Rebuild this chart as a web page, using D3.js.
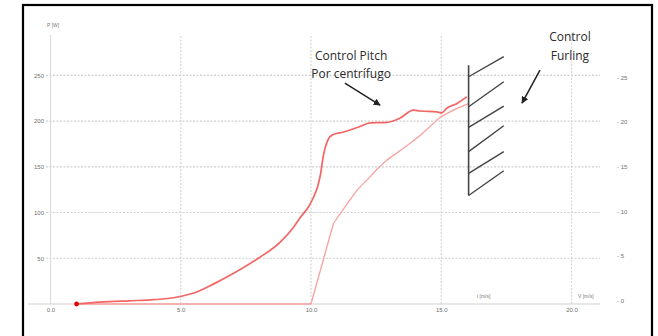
<!DOCTYPE html>
<html>
<head>
<meta charset="utf-8">
<script src="https://cdn.jsdelivr.net/npm/d3@7"></script>
<style>
  html, body { margin: 0; padding: 0; background: #fff; }
  svg { display: block; }
</style>
</head>
<body>
<div id="chart"></div>
<script>
// ---- Data ----
const xTicks = [0, 5, 10, 15, 20];           // V [m/s]
const yTicksLeft = [50, 100, 150, 200, 250];  // P [W]
const yTicksRight = [0, 5, 10, 15, 20, 25];

// Power curve with pitch control (darker red)  [V, P]
const powerPitch = [
  [1,0],[1.9,2],[3,3.5],[3.84,4.5],[4.5,6],[5.03,8.5],[5.5,12],[6.27,22],[7.03,33.5],
  [7.98,50],[8.83,68],[9.33,84],[9.6,95],[9.9,106],[10.1,117],[10.25,128],[10.36,141],
  [10.48,163],[10.63,178],[10.83,185],[11.25,188],[11.88,194],[12.27,198],[12.9,198.5],
  [13.41,203],[13.93,212],[14.18,211],[14.83,210],[15.02,209],[15.21,214],[15.59,219],
  [15.91,225],[15.98,226.5]
];
// Second curve (lighter red)  [V, P]
const powerSecond = [
  [1,0],[10,0],[10.86,88],[11.4,110],[11.78,125],[12.27,139],[12.52,147],[12.9,157],
  [13.54,170],[14.18,184],[14.95,204],[15.46,212],[16.04,219]
];
// Start marker
const startPoint = [[1, 0]];

// Annotations (data units)
const labelPitch = [{t:"Control Pitch", x:11.54, y:267}, {t:"Por centrífugo", x:11.54, y:247.5}];
const labelFurling = [{t:"Control", x:19.94, y:287}, {t:"Furling", x:19.94, y:267}];
const arrows = [
  {x1:11.3, y1:241.5, x2:12.65, y2:217.5},
  {x1:18.79, y1:255.7, x2:18.1, y2:219.7}
];
const hatchSpine = {x:16.05, y1:118.6, y2:261};
const hatchLines = [
  [248.4, 270.3], [215.6, 243], [193.1, 216.4], [166.6, 194.9], [142.8, 166.6], [118.6, 145.7]
];
const hatchX2 = 17.4;

// ---- Layout ----
const W = 658, H = 336;
const svg = d3.select("#chart").append("svg").attr("width", W).attr("height", H);
svg.append("rect").attr("width", W).attr("height", H).attr("fill", "#fff");

const x = d3.scaleLinear().domain([0, 20]).range([50.5, 571.5]);
const y = d3.scaleLinear().domain([0, 250]).range([304, 75.3]);
const yR = d3.scaleLinear().domain([0, 25]).range([300.7, 77.3]);

const gridX0 = 46, gridX1 = 600;

// horizontal grid
svg.append("g").selectAll("line").data(yTicksLeft).join("line")
  .attr("x1", gridX0).attr("x2", gridX1)
  .attr("y1", d => y(d)).attr("y2", d => y(d))
  .attr("stroke", "#cfcfcf").attr("stroke-width", 1.2).attr("stroke-dasharray", "2,1.5");

// vertical grid
svg.append("g").selectAll("line").data(xTicks.filter(d => d > 0)).join("line")
  .attr("x1", d => x(d)).attr("x2", d => x(d))
  .attr("y1", y(0)).attr("y2", y(294))
  .attr("stroke", "#d6d6d6").attr("stroke-width", 1.2).attr("stroke-dasharray", "2,1.5");
svg.append("line")
  .attr("x1", x(0)).attr("x2", x(0)).attr("y1", y(0)).attr("y2", y(294))
  .attr("stroke", "#dcdcdc").attr("stroke-width", 1.2);

// baseline
svg.append("line").attr("x1", 28).attr("x2", gridX1).attr("y1", y(0)).attr("y2", y(0))
  .attr("stroke", "#d0d0d0").attr("stroke-width", 1.2);

// axes (labels only)
const tickFont = "Liberation Sans, Arial, sans-serif";
function styleAxis(g) {
  g.select(".domain").remove();
  g.selectAll("text").attr("fill", "#6f6f6f").attr("font-size", 6).attr("font-family", tickFont);
}
svg.append("g").attr("transform", `translate(45,0)`)
  .call(d3.axisLeft(y).tickValues(yTicksLeft).tickSize(0).tickPadding(1))
  .call(styleAxis);
svg.append("g").attr("transform", `translate(0,${y(0)})`)
  .call(d3.axisBottom(x).tickValues(xTicks).tickFormat(d3.format(".1f")).tickSize(0).tickPadding(4))
  .call(styleAxis);
svg.append("g").attr("transform", `translate(616,0)`)
  .call(d3.axisRight(yR).tickValues(yTicksRight).tickFormat(d => "- " + d).tickSize(0).tickPadding(1))
  .call(styleAxis);

// axis titles
svg.append("text").attr("x", 47).attr("y", 27).text("P [W]")
  .attr("font-size", 5).attr("fill", "#777").attr("font-family", tickFont);
svg.append("text").attr("x", 477).attr("y", 298).text("i [m/s]")
  .attr("font-size", 5).attr("fill", "#777").attr("font-family", tickFont);
svg.append("text").attr("x", 578).attr("y", 298).text("V [m/s]")
  .attr("font-size", 5).attr("fill", "#777").attr("font-family", tickFont);

// curves
const line = d3.line().x(d => x(d[0])).y(d => y(d[1]));
const smoothLine = d3.line().x(d => x(d[0])).y(d => y(d[1])).curve(d3.curveMonotoneX);
svg.append("path").datum(powerSecond).attr("d", line)
  .attr("fill", "none").attr("stroke", "#f7a0a0").attr("stroke-width", 1.3).attr("stroke-linejoin", "round");
svg.append("path").datum(powerPitch).attr("d", smoothLine)
  .attr("fill", "none").attr("stroke", "#f26666").attr("stroke-width", 1.7).attr("stroke-linejoin", "round");
svg.selectAll("circle.start").data(startPoint).join("circle").attr("class", "start")
  .attr("cx", d => x(d[0])).attr("cy", d => y(d[1])).attr("r", 2.4).attr("fill", "#e60000");

// hatch (furling)
const hatchColor = "#444";
svg.append("line")
  .attr("x1", x(hatchSpine.x)).attr("x2", x(hatchSpine.x))
  .attr("y1", y(hatchSpine.y1)).attr("y2", y(hatchSpine.y2))
  .attr("stroke", hatchColor).attr("stroke-width", 1.6);
svg.append("g").selectAll("line").data(hatchLines).join("line")
  .attr("x1", x(hatchSpine.x)).attr("x2", x(hatchX2))
  .attr("y1", d => y(d[0])).attr("y2", d => y(d[1]))
  .attr("stroke", hatchColor).attr("stroke-width", 1.4);

// arrows
svg.append("defs").append("marker").attr("id", "ah")
  .attr("viewBox", "0 0 10 10").attr("refX", 9).attr("refY", 5)
  .attr("markerWidth", 7).attr("markerHeight", 7).attr("markerUnits", "userSpaceOnUse")
  .attr("orient", "auto")
  .append("path").attr("d", "M0,0 L10,5 L0,10 z").attr("fill", "#222");
svg.append("g").selectAll("line").data(arrows).join("line")
  .attr("x1", d => x(d.x1)).attr("y1", d => y(d.y1))
  .attr("x2", d => x(d.x2)).attr("y2", d => y(d.y2))
  .attr("stroke", "#222").attr("stroke-width", 1.5).attr("marker-end", "url(#ah)");

// annotation text
const annFont = "Open Sans, Noto Sans, sans-serif";
svg.append("g").selectAll("text").data(labelPitch.concat(labelFurling)).join("text")
  .attr("x", d => x(d.x)).attr("y", d => y(d.y))
  .attr("text-anchor", "middle").attr("font-size", 12).attr("font-family", annFont)
  .attr("fill", "#2a2a2a").text(d => d.t);

// frame
svg.append("rect").attr("x", 23).attr("y", 5).attr("width", 629).attr("height", 345)
  .attr("fill", "none").attr("stroke", "#000").attr("stroke-width", 2.2);
</script>
</body>
</html>
